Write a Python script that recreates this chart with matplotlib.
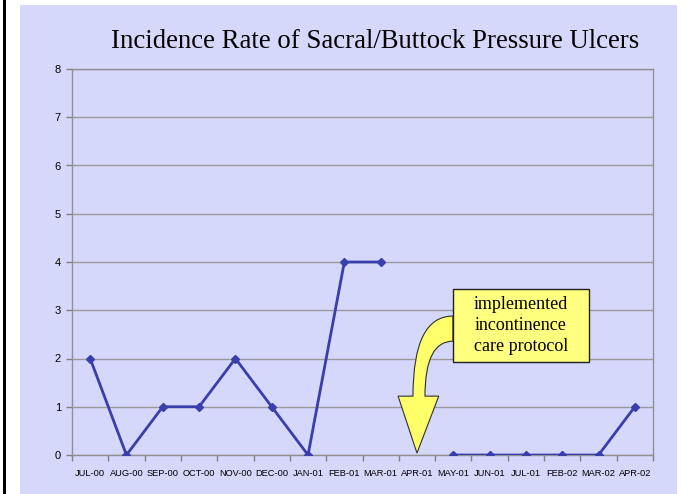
import numpy as np
import matplotlib
matplotlib.use("Agg")
import matplotlib.pyplot as plt
from matplotlib.path import Path
from matplotlib.patches import PathPatch, Rectangle

months = ["JUL-00", "AUG-00", "SEP-00", "OCT-00", "NOV-00", "DEC-00", "JAN-01",
          "FEB-01", "MAR-01", "APR-01", "MAY-01", "JUN-01", "JUL-01", "FEB-02",
          "MAR-02", "APR-02"]
rates = [2, 0, 1, 1, 2, 1, 0, 4, 4, np.nan, 0, 0, 0, 0, 0, 1]
yticks = [0, 1, 2, 3, 4, 5, 6, 7, 8]
title = "Incidence Rate of Sacral/Buttock Pressure Ulcers"
note = "implemented\nincontinence\ncare protocol"

bg = "#D6D8FB"
line_c = "#3A3EAC"

fig = plt.figure(figsize=(6.87, 4.94), dpi=100)
fig.patch.set_facecolor("white")
# lavender slide background and black left rule
fig.patches.append(Rectangle((20/687, 0), (677-20)/687, 1-5/494, transform=fig.transFigure,
                             facecolor=bg, edgecolor="none", zorder=-10))
fig.patches.append(Rectangle((3/687, 0), 3/687, 1, transform=fig.transFigure,
                             facecolor="black", edgecolor="none", zorder=-10))

ax = fig.add_axes([72/687, 1-455/494, (653-72)/687, (455-69)/494])
ax.set_facecolor(bg)
x = np.arange(len(months))
ax.plot(x, rates, color=line_c, lw=2, marker="D", ms=4, zorder=3)

ax.set_xlim(-0.5, len(months) - 0.5)
ax.set_ylim(0, 8)
ax.set_yticks(yticks)
ax.set_yticklabels([str(v) for v in yticks], family="Liberation Sans", fontsize=8)
ax.set_xticks(x)
ax.set_xticklabels(months, family="Liberation Sans", fontsize=6.7)
ax.set_xticks(np.arange(-0.5, len(months)), minor=True)
ax.tick_params(axis="x", which="major", length=0, pad=10)
ax.tick_params(axis="x", which="minor", length=4, color="#808080", width=1)
ax.tick_params(axis="y", length=4, color="#808080", width=1, pad=4)
ax.yaxis.grid(True, color="#9A9A9A", lw=1)
ax.set_axisbelow(True)
for s in ax.spines.values():
    s.set_color("#909090")
    s.set_linewidth(1)

fig.text(375/687, 1-42/494, title, family="Liberation Serif", fontsize=19.3,
         ha="center", va="center")

# curved callout arrow
verts = [(9.99, 2.88), (8.89, 2.88), (8.89, 1.22), (8.48, 1.22), (9.0, 0.04),
         (9.6, 1.22), (9.22, 1.22), (9.22, 2.36), (9.99, 2.36), (9.99, 2.88)]
codes = [Path.MOVETO, Path.CURVE3, Path.CURVE3, Path.LINETO, Path.LINETO,
         Path.LINETO, Path.LINETO, Path.CURVE3, Path.CURVE3, Path.CLOSEPOLY]
ax.add_patch(PathPatch(Path(verts, codes), facecolor="#FFFF6A", edgecolor="#303030",
                       lw=0.8, zorder=4, clip_on=False))
ax.add_patch(Rectangle((9.99, 1.93), 13.74-9.99, 3.44-1.93, facecolor="#FFFF80",
                       edgecolor="#202020", lw=1, zorder=5, clip_on=False))
ax.text((9.99+13.74)/2, (1.93+3.44)/2, note, family="Liberation Serif", fontsize=13,
        ha="center", va="center", linespacing=1.32, zorder=6)

fig.savefig("out.png", dpi=100, facecolor=fig.get_facecolor())
